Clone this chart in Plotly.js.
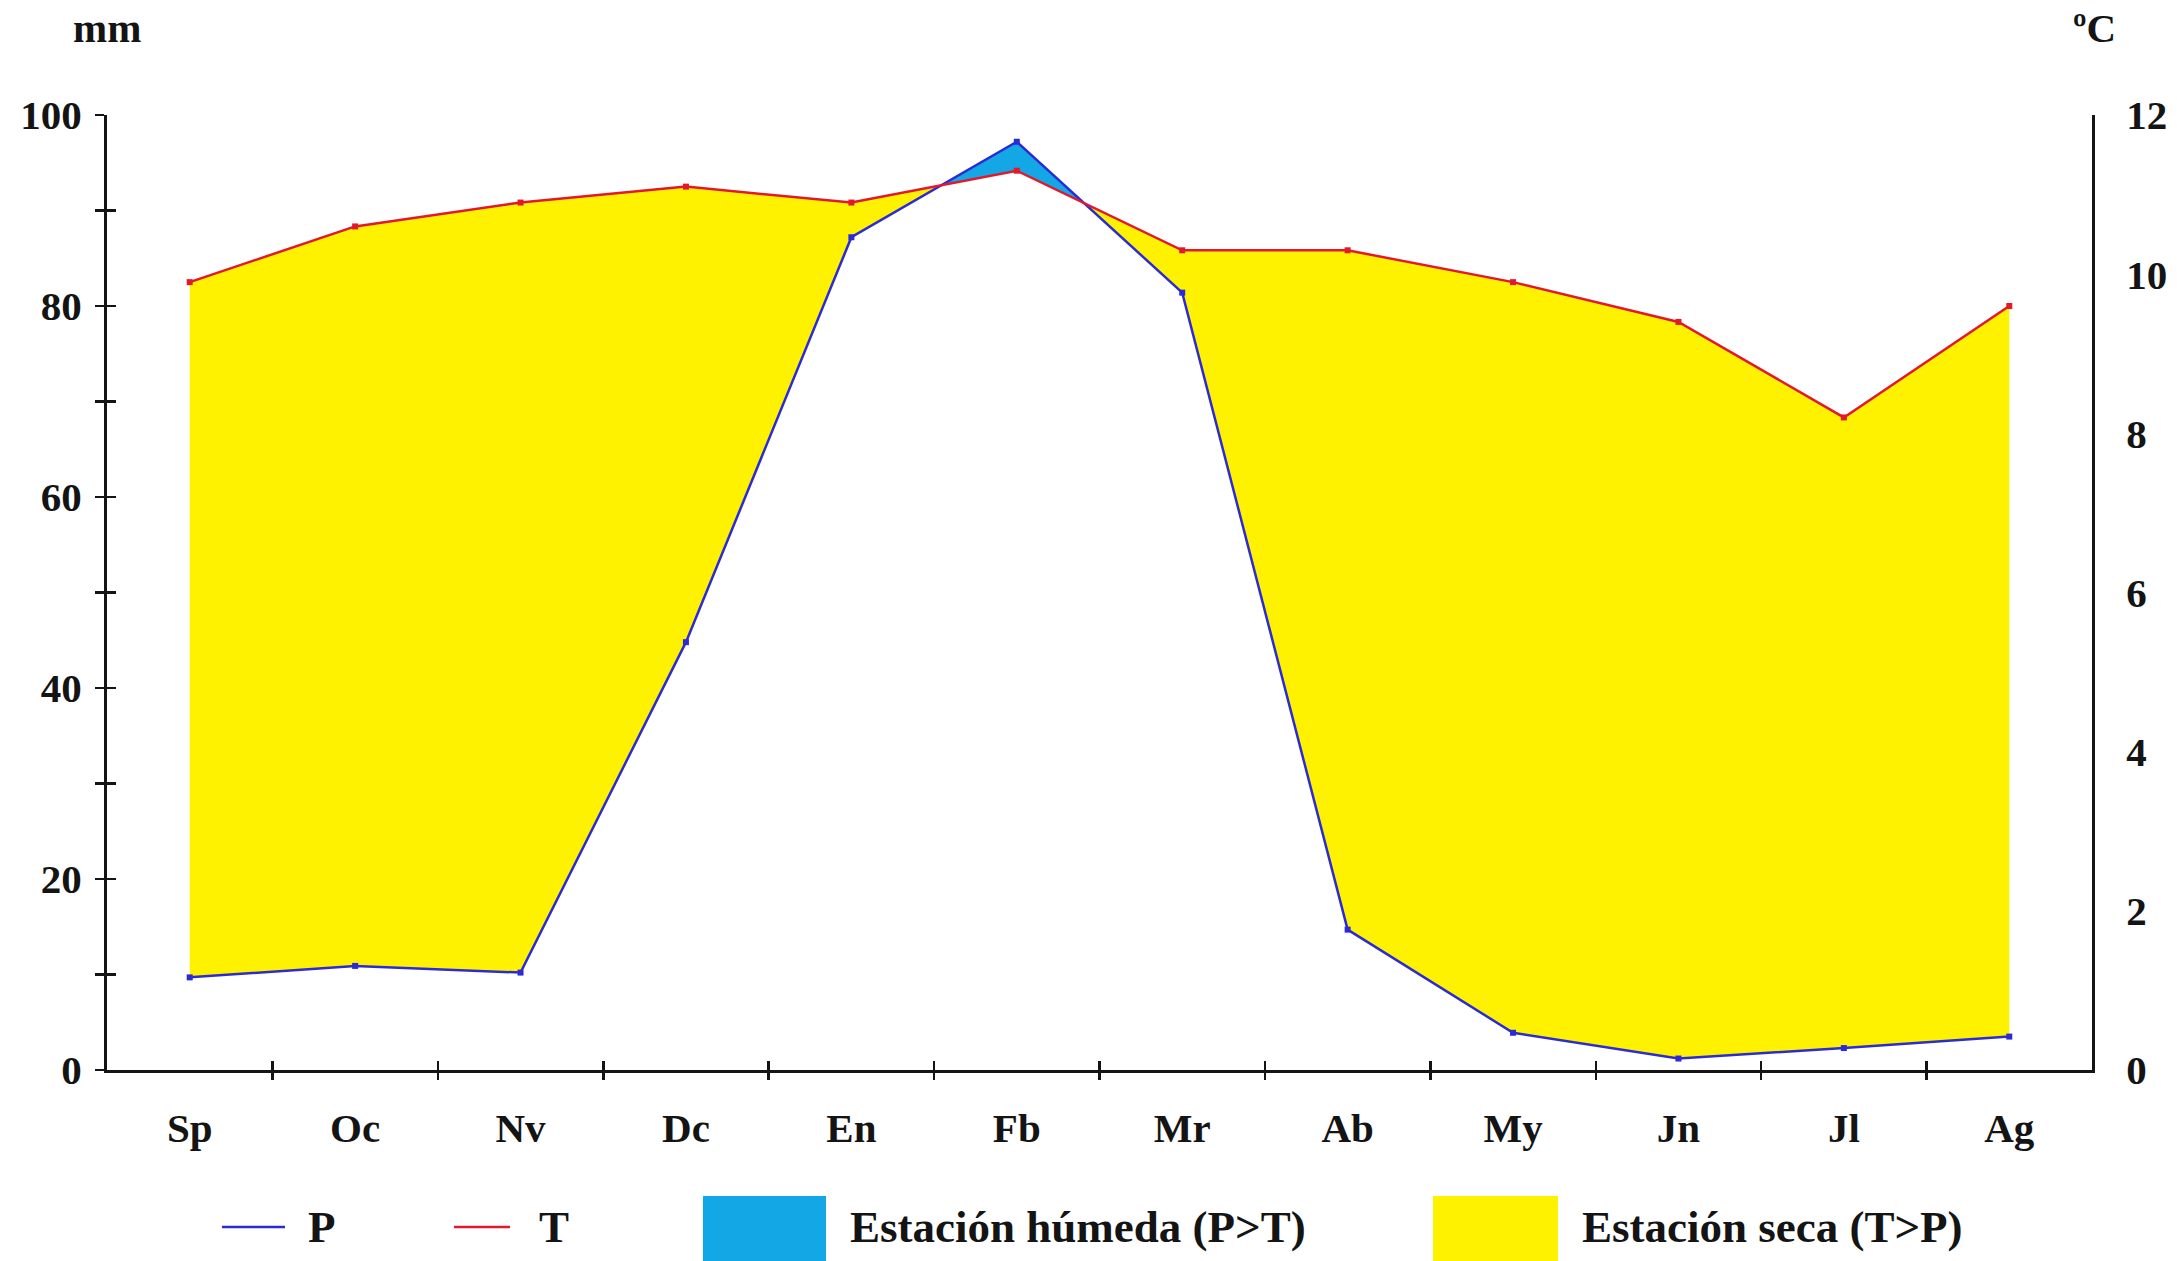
<!DOCTYPE html>
<html>
<head>
<meta charset="utf-8">
<script src="https://cdn.plot.ly/plotly-3.0.1.min.js"></script>
<style>html,body{margin:0;padding:0;background:#fff;}#chart{width:2177px;height:1261px;}</style>
</head>
<body>
<div id="chart"></div>
<script>
// ---- data ----
const months = ['Sp','Oc','Nv','Dc','En','Fb','Mr','Ab','My','Jn','Jl','Ag'];
const precipitation = [9.7, 10.9, 10.2, 44.8, 87.2, 97.2, 81.4, 14.7, 3.9, 1.2, 2.3, 3.5]; // mm
const temperature = [9.9, 10.6, 10.9, 11.1, 10.9, 11.3, 10.3, 10.3, 9.9, 9.4, 8.2, 9.6];   // ºC
const leftTicks = [0, 20, 40, 60, 80, 100];
const rightTicks = [0, 2, 4, 6, 8, 10, 12];
const mmMax = 100, cMax = 12;

// ---- geometry ----
const W = 2177, H = 1261, ML = 107, MR = 85, MT = 115, MB = 191;
const PW = W - ML - MR, PH = H - MT - MB;
const px = x => (x - ML) / PW;
const py = y => (H - MB - y) / PH;

const FONT = 'Liberation Serif, Times New Roman, serif';
const INK = '#141414';
const YEL = '#FFF200', BLU = '#14A7E6', PCOL = '#2B2BD6', TCOL = '#E3182D';

// temperature expressed in the mm scale of the left axis (100 mm = 12 ºC)
const tmm = temperature.map(t => t * mmMax / cMax);
const idx = months.map((m, i) => i);

// insert crossing points so that the wet/dry fills meet exactly where the lines cross
const xs = [], pv = [], tv = [];
for (let i = 0; i < months.length; i++) {
  xs.push(i); pv.push(precipitation[i]); tv.push(tmm[i]);
  if (i < months.length - 1) {
    const d0 = tmm[i] - precipitation[i], d1 = tmm[i + 1] - precipitation[i + 1];
    if (d0 * d1 < 0) {
      const f = d0 / (d0 - d1);
      const yc = precipitation[i] + f * (precipitation[i + 1] - precipitation[i]);
      xs.push(i + f); pv.push(yc); tv.push(yc);
    }
  }
}
const upper = xs.map((_, k) => Math.max(pv[k], tv[k]));

const none = {width: 0, color: 'rgba(0,0,0,0)'};
const traces = [
  {x: xs, y: pv, mode: 'lines', line: none, hoverinfo: 'skip', showlegend: false},
  {x: xs, y: upper, mode: 'lines', line: none, fill: 'tonexty', fillcolor: YEL, name: 'Estación seca (T>P)', hoverinfo: 'skip', showlegend: false},
  {x: xs, y: tv, mode: 'lines', line: none, hoverinfo: 'skip', showlegend: false},
  {x: xs, y: upper, mode: 'lines', line: none, fill: 'tonexty', fillcolor: BLU, name: 'Estación húmeda (P>T)', hoverinfo: 'skip', showlegend: false},
  {x: idx, y: precipitation, name: 'P', mode: 'lines+markers', line: {color: PCOL, width: 2.5},
   marker: {color: PCOL, size: 6, symbol: 'square'}, showlegend: false},
  {x: idx, y: temperature, name: 'T', yaxis: 'y2', mode: 'lines+markers', line: {color: TCOL, width: 2.5},
   marker: {color: TCOL, size: 6, symbol: 'square'}, showlegend: false},
  {x: [], y: [], xaxis: 'x2', yaxis: 'y', showlegend: false, hoverinfo: 'skip'},
  {x: [], y: [], xaxis: 'x3', yaxis: 'y', showlegend: false, hoverinfo: 'skip'},
  {x: [], y: [], xaxis: 'x', yaxis: 'y3', showlegend: false, hoverinfo: 'skip'}
];

const tickFont = {family: FONT, size: 41, color: INK, weight: 'bold'};
const legendFont = {family: FONT, size: 45, color: INK, weight: 'bold'};
const boundaries = months.slice(1).map((m, i) => i + 0.5);
const leftAll = [];
for (let v = 0; v <= mmMax; v += 10) leftAll.push(v);

const layout = {
  width: W, height: H,
  margin: {l: ML, r: MR, t: MT, b: MB, pad: 0},
  paper_bgcolor: '#ffffff', plot_bgcolor: 'rgba(0,0,0,0)',
  showlegend: false,
  xaxis: {
    range: [-0.5, 11.5], tickmode: 'array', tickvals: idx, ticktext: months, ticks: '',
    showline: true, linewidth: 3, linecolor: INK, showgrid: false, zeroline: false,
    tickfont: tickFont, ticklabelstandoff: 20, fixedrange: true
  },
  xaxis2: {
    overlaying: 'x', anchor: 'y', side: 'bottom', range: [-0.5, 11.5], tickmode: 'array',
    tickvals: boundaries, ticks: 'outside', ticklen: 9, tickwidth: 2.5, tickcolor: INK,
    showticklabels: false, showline: false, showgrid: false, zeroline: false
  },
  xaxis3: {
    overlaying: 'x', anchor: 'y', side: 'bottom', range: [-0.5, 11.5], tickmode: 'array',
    tickvals: boundaries, ticks: 'inside', ticklen: 9, tickwidth: 2.5, tickcolor: INK,
    showticklabels: false, showline: false, showgrid: false, zeroline: false
  },
  yaxis: {
    range: [0, mmMax], tickmode: 'array', tickvals: leftAll,
    ticktext: leftAll.map(v => leftTicks.includes(v) ? String(v) : ''),
    ticks: 'outside', ticklen: 9, tickwidth: 2.5, tickcolor: INK,
    showline: true, linewidth: 3, linecolor: INK, showgrid: false, zeroline: false,
    tickfont: tickFont, ticklabelstandoff: 5
  },
  yaxis3: {
    overlaying: 'y', anchor: 'x', side: 'left', range: [0, mmMax], tickmode: 'array', tickvals: leftAll,
    ticks: 'inside', ticklen: 9, tickwidth: 2.5, tickcolor: INK,
    showticklabels: false, showline: false, showgrid: false, zeroline: false
  },
  yaxis2: {
    overlaying: 'y', side: 'right', anchor: 'x', range: [0, cMax], tickmode: 'array', tickvals: rightTicks,
    ticks: '', showline: true, linewidth: 3, linecolor: INK, showgrid: false, zeroline: false,
    tickfont: tickFont, ticklabelstandoff: 23
  },
  shapes: [
    {type: 'line', xref: 'paper', yref: 'paper', x0: px(222), x1: px(285), y0: py(1227), y1: py(1227), line: {color: PCOL, width: 2.5}},
    {type: 'line', xref: 'paper', yref: 'paper', x0: px(454), x1: px(510), y0: py(1227), y1: py(1227), line: {color: TCOL, width: 2.5}},
    {type: 'rect', xref: 'paper', yref: 'paper', x0: px(703), x1: px(826), y0: py(1196), y1: py(1262), fillcolor: BLU, line: {width: 0}},
    {type: 'rect', xref: 'paper', yref: 'paper', x0: px(1433), x1: px(1558), y0: py(1196), y1: py(1262), fillcolor: YEL, line: {width: 0}}
  ],
  annotations: [
    {text: 'mm', xref: 'paper', yref: 'paper', x: px(107), y: py(28), xanchor: 'center', yanchor: 'middle', showarrow: false, font: tickFont},
    {text: 'ºC', xref: 'paper', yref: 'paper', x: px(2094), y: py(28), xanchor: 'center', yanchor: 'middle', showarrow: false, font: tickFont},
    {text: 'P', xref: 'paper', yref: 'paper', x: px(306), y: py(1227), xanchor: 'left', yanchor: 'middle', showarrow: false, font: legendFont},
    {text: 'T', xref: 'paper', yref: 'paper', x: px(537), y: py(1227), xanchor: 'left', yanchor: 'middle', showarrow: false, font: legendFont},
    {text: 'Estación húmeda (P>T)', xref: 'paper', yref: 'paper', x: px(848), y: py(1227), xanchor: 'left', yanchor: 'middle', showarrow: false, font: legendFont},
    {text: 'Estación seca (T>P)', xref: 'paper', yref: 'paper', x: px(1580), y: py(1227), xanchor: 'left', yanchor: 'middle', showarrow: false, font: legendFont}
  ]
};

Plotly.newPlot('chart', traces, layout, {staticPlot: true, displayModeBar: false});
</script>
</body>
</html>
